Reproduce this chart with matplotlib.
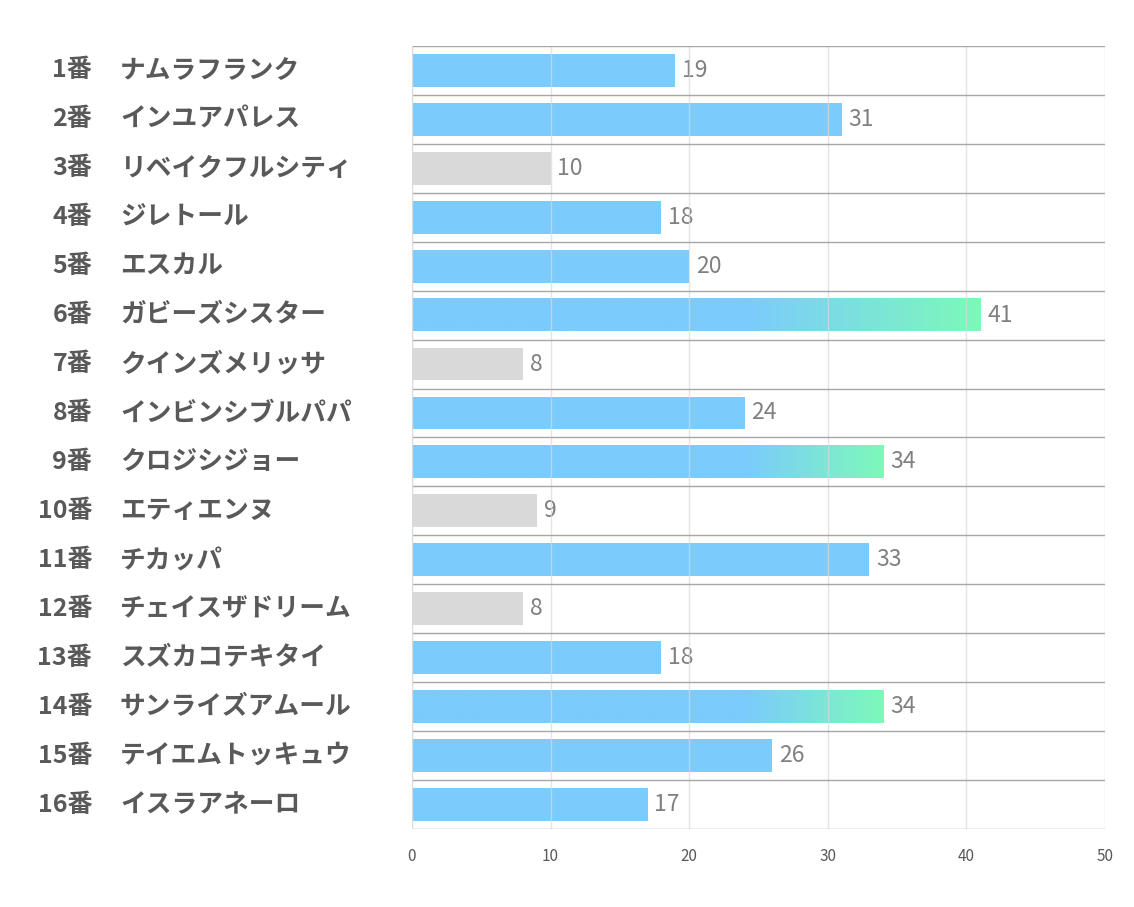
import matplotlib.pyplot as plt
import matplotlib.colors as mcolors
import numpy as np

plt.rcParams['font.family'] = ['Noto Sans CJK JP', 'DejaVu Sans']

numbers = ['1番', '2番', '3番', '4番', '5番', '6番', '7番', '8番',
           '9番', '10番', '11番', '12番', '13番', '14番', '15番', '16番']
names = ['ナムラフランク', 'インユアパレス', 'リベイクフルシティ', 'ジレトール',
         'エスカル', 'ガビーズシスター', 'クインズメリッサ', 'インビンシブルパパ',
         'クロジシジョー', 'エティエンヌ', 'チカッパ', 'チェイスザドリーム',
         'スズカコテキタイ', 'サンライズアムール', 'テイエムトッキュウ', 'イスラアネーロ']
values = [19, 31, 10, 18, 20, 41, 8, 24, 34, 9, 33, 8, 18, 34, 26, 17]
kind = ['b', 'b', 'g', 'b', 'b', 'x', 'g', 'b', 'x', 'g', 'b', 'g', 'b', 'x', 'b', 'b']

blue = '#7BCBFD'
gray = '#D9D9D9'
green = '#7DF9B9'
txt = '#595959'

fig = plt.figure(figsize=(11.34, 9.07), dpi=100)
ax = fig.add_axes([0.3633, 0.086, 0.611, 0.8634])

n = len(values)
h = 0.67
cmap = mcolors.LinearSegmentedColormap.from_list('g', [blue, green])

for i, (v, k) in enumerate(zip(values, kind)):
    if k == 'x':
        # whole bar as one image: flat blue, then blue -> green from x=24
        start = 24.0
        xs = np.linspace(0, v, 400)
        grad = np.clip((xs - start) / (v - start), 0, 1).reshape(1, -1)
        ax.imshow(grad, cmap=cmap, vmin=0, vmax=1, aspect='auto', zorder=2,
                  interpolation='bilinear',
                  extent=(0, v, i + h / 2, i - h / 2))
    else:
        ax.barh(i, v, height=h, color=gray if k == 'g' else blue, zorder=2)
    ax.text(v + 0.5, i, str(v), va='center', ha='left', fontsize=16.5,
            color='#808080')

ax.set_xlim(0, 50)
ax.set_ylim(n - 0.5, -0.5)
ax.set_xticks(range(0, 51, 10))
ax.set_yticks([])
ax.tick_params(axis='x', length=0, labelsize=11, labelcolor=txt, pad=14)

for xv in range(10, 51, 10):
    ax.axvline(xv, color='#D9D9D9', lw=1, zorder=3, alpha=0.7)
for yv in np.arange(-0.5, n, 1):
    ax.axhline(yv, color='#A6A6A6', lw=1, zorder=3)
ax.axvline(0, color='#D9D9D9', lw=1, zorder=3)

for s in ax.spines.values():
    s.set_visible(False)

for i in range(n):
    ax.annotate(numbers[i], xy=(0, i), xycoords=('figure fraction', 'data'),
                xytext=(92, 0), textcoords='offset pixels', ha='right',
                va='center', fontsize=18, fontweight='bold', color=txt)
    ax.annotate(names[i], xy=(0, i), xycoords=('figure fraction', 'data'),
                xytext=(120, 0), textcoords='offset pixels', ha='left',
                va='center', fontsize=18.5, fontweight='bold', color=txt)

fig.savefig('out.png', dpi=100)
